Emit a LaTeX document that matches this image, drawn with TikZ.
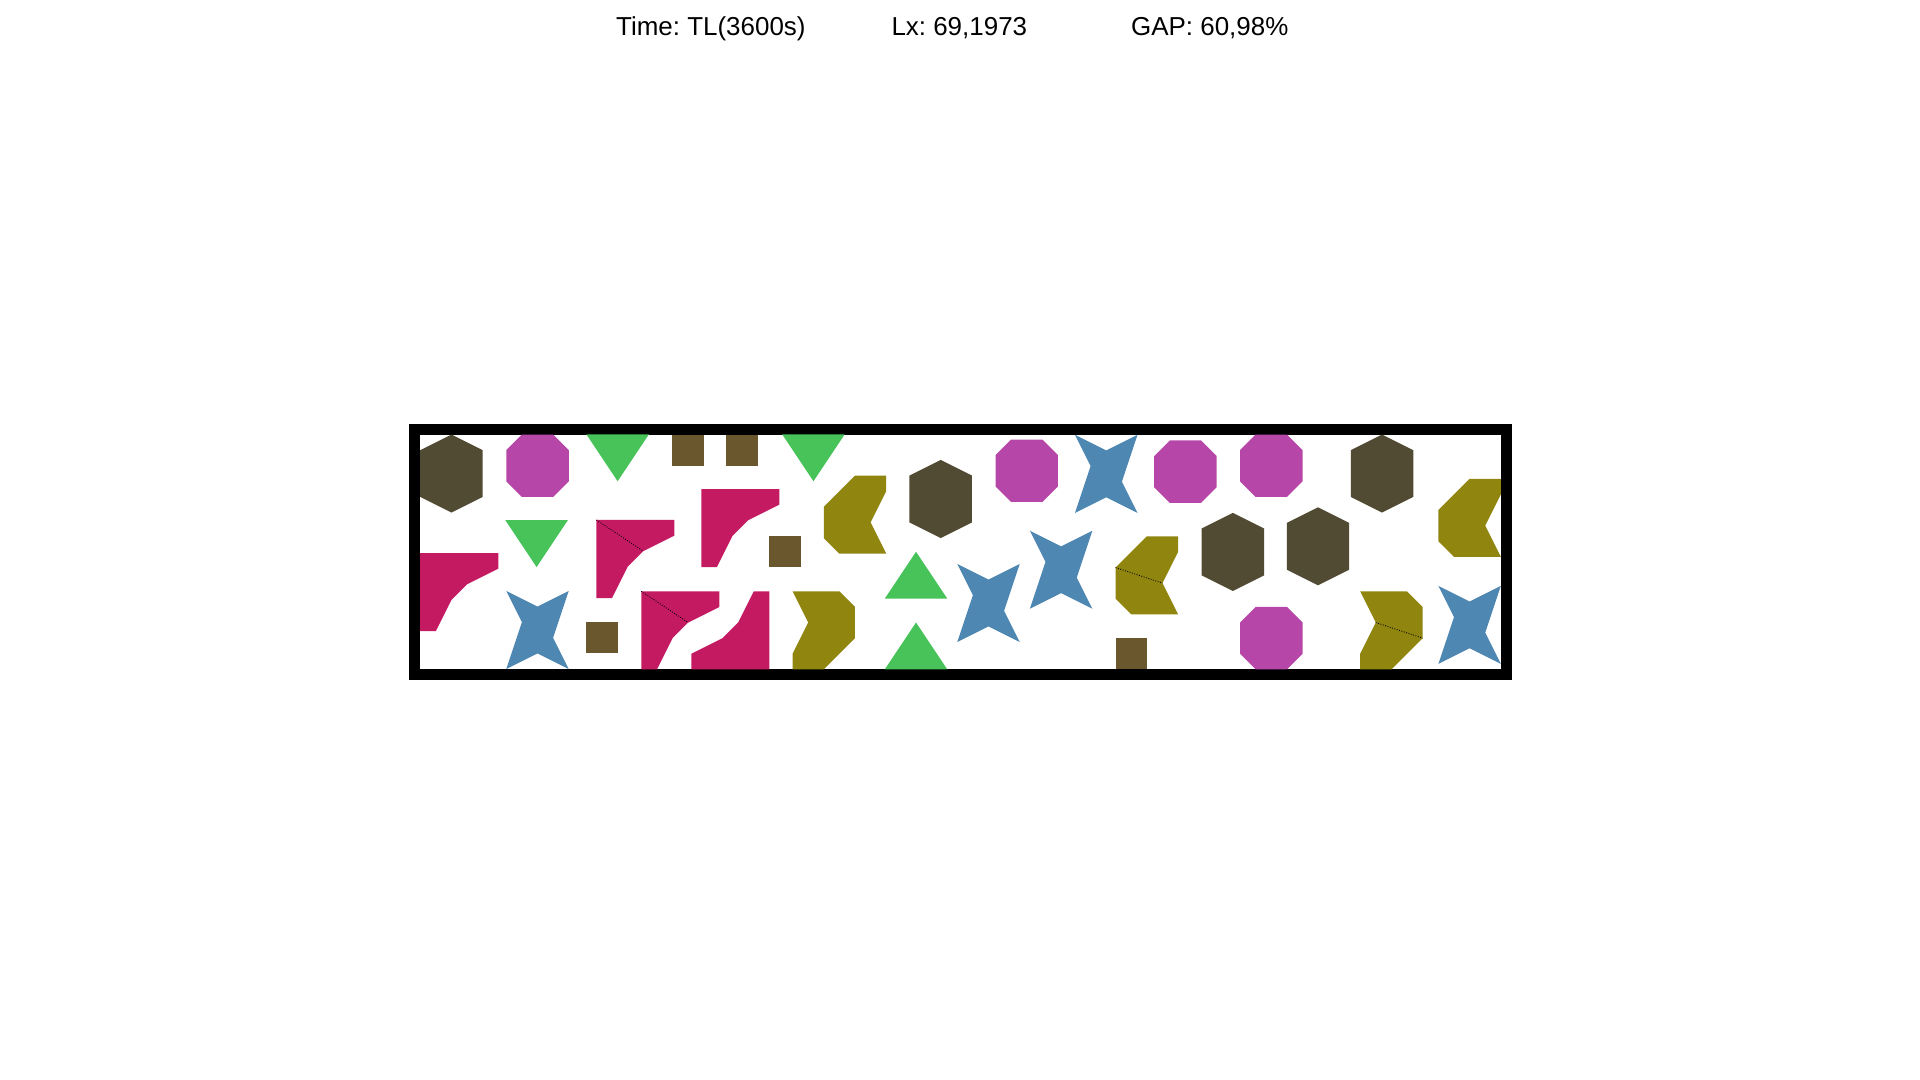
\documentclass[tikz,border=0pt]{standalone}
\usepackage{fontspec}
\setmainfont{Liberation Sans}
\usepackage{xcolor}
\usepackage{tikz}
\frenchspacing

\definecolor{hexcol}{RGB}{82,75,52}
\definecolor{octcol}{RGB}{182,70,168}
\definecolor{tricol}{RGB}{71,195,90}
\definecolor{sqcol}{RGB}{107,87,45}
\definecolor{starcol}{RGB}{79,135,179}
\definecolor{hookcol}{RGB}{196,26,98}
\definecolor{chevcol}{RGB}{143,133,15}

\begin{document}
\begin{tikzpicture}[x=0.01cm, y=-0.01cm,
    info/.style={anchor=base west, inner sep=0pt, font=\fontsize{7.38}{8.5}\selectfont},
    seam/.style={black, line width=0.25pt, dash pattern=on 0.25pt off 0.45pt}]
  \useasboundingbox (0,0) rectangle (1920,1080);

  % header line
  \node[info] (time) at (615.5,35.7) {Time: TL(3600s)};
  \node[info] (lx) at (890.8,35.7) {Lx: 69,1973};
  \node[info] (gap) at (1130.4,35.7) {GAP: 60,98\%};

  \begin{scope}[shift={(4.20cm,-6.69cm)}, x=0.15607cm, y=0.15607cm]
    % strip 69.1973 x 15
    \draw[line width=0.11cm] (-0.352,-0.352) rectangle (69.549,15.352);

    % hexagons
    \foreach \px/\py in {0/10.04, 31.33/8.41, 50.04/5.02, 59.59/10.04, 55.49/5.38}
      \fill[hexcol, shift={(\px,\py)}] (2,0) -- (4,1) -- (4,4) -- (2,5) -- (0,4) -- (0,1) -- cycle;

    % octagons
    \foreach \px/\py in {5.51/11.04, 36.84/10.72, 47/10.66, 52.5/11.04, 52.5/0}
      \fill[octcol, shift={(\px,\py)}] (1,0) -- (3,0) -- (4,1) -- (4,3) -- (3,4) -- (1,4) -- (0,3) -- (0,1) -- cycle;

    % triangles, point down
    \foreach \px/\py in {10.64/12.05, 5.45/6.55, 23.18/12.05}
      \fill[tricol, shift={(\px,\py)}] (0,3) -- (4,3) -- (2,0) -- cycle;
    % triangles, point up
    \foreach \px/\py in {29.75/4.53, 29.75/0}
      \fill[tricol, shift={(\px,\py)}] (0,0) -- (4,0) -- (2,3) -- cycle;

    % squares
    \foreach \px/\py in {16.15/13, 19.6/13, 10.64/1.04, 22.36/6.55, 44.53/0}
      \fill[sqcol, shift={(\px,\py)}] (0,0) rectangle (2,2);

    % stars
    \foreach \px/\py in {5.51/0.02, 41.93/10.02, 39.04/3.88, 34.39/1.75, 65.2/0.35}
      \fill[starcol, shift={(\px,\py)}] (0,0) -- (2,1) -- (4,0) -- (3,2) -- (4,5) -- (2,4) -- (0,5) -- (1,3) -- cycle;

    % hooks
    \foreach \px/\py in {0/2.45, 11.28/4.57, 18/6.55, 14.16/0}
      \fill[hookcol, shift={(\px,\py)}] (0,0) -- (1,0) -- (2,2) -- (3,3) -- (5,4) -- (5,5) -- (0,5) -- cycle;
    % hook turned round
    \fill[hookcol, shift={(17.36,0)}] (5,5) -- (4,5) -- (3,3) -- (2,2) -- (0,1) -- (0,0) -- (5,0) -- cycle;
    \draw[seam, shift={(11.28,4.57)}] (0,5) -- (3,3);
    \draw[seam, shift={(14.16,0)}] (0,5) -- (3,3);

    % chevrons, open to the right
    \foreach \px/\py in {25.84/7.41, 44.53/3.52, 65.2/7.2}
      \fill[chevcol, shift={(\px,\py)}] (2,5) -- (4,5) -- (4,4) -- (3,2) -- (4,0) -- (1,0) -- (0,1) -- (0,3) -- cycle;
    % chevrons, open to the left
    \foreach \px/\py in {23.84/0, 60.19/0}
      \fill[chevcol, shift={(\px,\py)}] (0,5) -- (3,5) -- (4,4) -- (4,2) -- (2,0) -- (0,0) -- (0,1) -- (1,3) -- cycle;
    \draw[seam, shift={(44.53,3.52)}] (0,3) -- (3,2);
    \draw[seam, shift={(60.19,0)}] (1,3) -- (4,2);
  \end{scope}
\end{tikzpicture}
\end{document}
